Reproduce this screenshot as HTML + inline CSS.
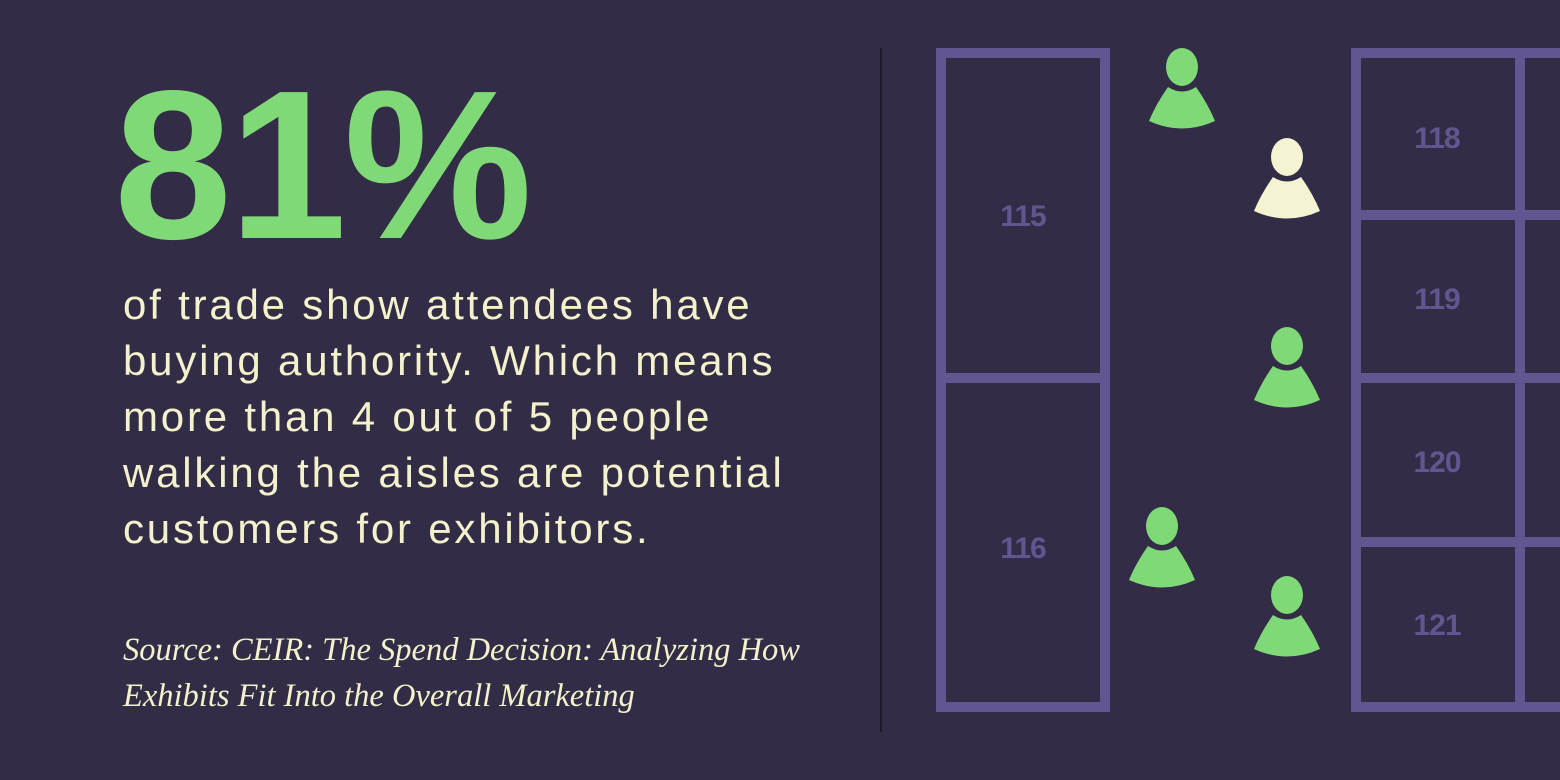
<!DOCTYPE html>
<html><head><meta charset="utf-8"><style>
body{margin:0;width:1560px;height:780px;background:#322c46;overflow:hidden;position:relative;font-family:"Liberation Sans",sans-serif}
.big{position:absolute;left:114px;top:50px;font-size:212px;font-weight:bold;color:#80d977;letter-spacing:-3px;line-height:230px}
.body{position:absolute;left:123px;top:277px;font-size:42px;line-height:56px;color:#f4f2cc;white-space:nowrap;letter-spacing:2.8px}
.src{position:absolute;left:123px;top:627px;font-family:"Liberation Serif",serif;font-style:italic;font-size:32.5px;line-height:46px;color:#f4f2cc;white-space:nowrap}
.div{position:absolute;left:880px;top:48px;width:2px;height:684px;background:#1e1a2b}
</style></head><body>
<div class="big">81%</div>
<div class="body">of trade show attendees have<br>buying authority. Which means<br>more than 4 out of 5 people<br>walking the aisles are potential<br>customers for exhibitors.</div>
<div class="src">Source: CEIR: The Spend Decision: Analyzing How<br>Exhibits Fit Into the Overall Marketing</div>
<div class="div"></div>
<svg width="1560" height="780" style="position:absolute;left:0;top:0">
<g fill="none" stroke="#625690" stroke-width="10">
<rect x="941" y="53" width="164" height="654"/>
<line x1="936" y1="378" x2="1110" y2="378"/>
<rect x="1356" y="53" width="230" height="654"/>
<line x1="1520" y1="48" x2="1520" y2="712"/>
<line x1="1351" y1="215" x2="1600" y2="215"/>
<line x1="1351" y1="378" x2="1600" y2="378"/>
<line x1="1351" y1="542" x2="1600" y2="542"/>
</g>
<g fill="#625690" font-family="Liberation Sans,sans-serif" font-weight="bold" font-size="30" text-anchor="middle" letter-spacing="-1">
<text x="1023" y="226">115</text>
<text x="1023" y="558">116</text>
<text x="1437" y="148">118</text>
<text x="1437" y="309">119</text>
<text x="1437" y="472">120</text>
<text x="1437" y="635">121</text>
</g>
<defs><g id="p">
<path d="M-14,39 Q0,48 14,39 Q26,56 33,73 Q0,88 -33,73 Q-26,56 -14,39 Z"/>
<ellipse cx="0" cy="19" rx="16" ry="19"/>
</g></defs>
<g fill="#80d977"><use href="#p" x="1182" y="48"/>
<use href="#p" x="1287" y="327"/>
<use href="#p" x="1162" y="507"/>
<use href="#p" x="1287" y="576"/></g>
<use href="#p" x="1287" y="138" fill="#f4f4d2"/>
</svg>
</body></html>
